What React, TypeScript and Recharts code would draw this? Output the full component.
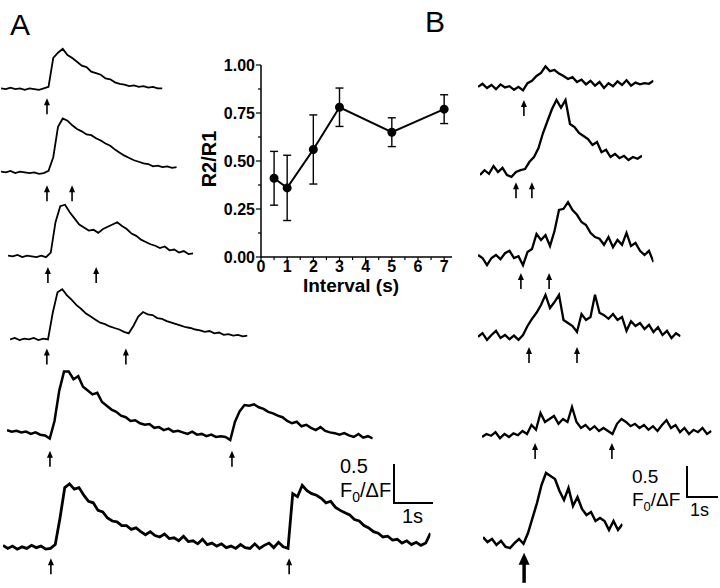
import { ComposedChart, Line, XAxis, YAxis, ErrorBar, ReferenceDot } from 'recharts';

const FONT = 'Liberation Sans, Arial, Helvetica, sans-serif';

// inset: paired-pulse ratio vs interval
const intervals = [0.5, 1, 2, 3, 5, 7];
const ratio = [0.41, 0.36, 0.56, 0.78, 0.65, 0.77];
const ratioErr = [0.14, 0.17, 0.18, 0.1, 0.075, 0.075];
const xTicks = [0, 0.5, 1, 1.5, 2, 2.5, 3, 3.5, 4, 4.5, 5, 5.5, 6, 6.5, 7];
const yTicks = [0, 0.125, 0.25, 0.375, 0.5, 0.625, 0.75, 0.875, 1];

// panel A traces (F0/dF), sampled every 0.125 s
const dtA = 0.125;
const a1 = [0, -0.01, 0.01, -0.01, 0, -0.02, 0, -0.01, -0.02, 0, 0.02, 0.4, 0.47, 0.52, 0.44, 0.4, 0.35, 0.3, 0.28, 0.22, 0.2, 0.18, 0.13, 0.12, 0.08, 0.06, 0.05, 0.03, 0.04, 0.02, 0.03, 0.01, 0.02, 0, 0];
const a2 = [0.01, 0, 0.02, -0.01, 0.01, 0, -0.01, 0, -0.02, -0.01, 0.02, 0.2, 0.6, 0.71, 0.68, 0.62, 0.57, 0.54, 0.5, 0.49, 0.45, 0.42, 0.38, 0.35, 0.3, 0.26, 0.22, 0.19, 0.16, 0.14, 0.12, 0.11, 0.08, 0.09, 0.07, 0.08, 0.06, 0.07];
const a3 = [0.01, 0, 0.02, -0.01, 0.01, 0, -0.01, 0.01, -0.01, 0.05, 0.45, 0.66, 0.68, 0.58, 0.5, 0.42, 0.38, 0.34, 0.35, 0.31, 0.36, 0.39, 0.42, 0.45, 0.4, 0.36, 0.3, 0.27, 0.22, 0.19, 0.16, 0.14, 0.11, 0.13, 0.08, 0.09, 0.05, 0.07, 0.03, 0.04];
const a4 = [0, 0.02, -0.01, 0.01, 0, 0.02, -0.01, 0.01, 0, 0.35, 0.62, 0.66, 0.58, 0.52, 0.45, 0.4, 0.34, 0.3, 0.26, 0.22, 0.2, 0.17, 0.15, 0.13, 0.1, 0.08, 0.18, 0.3, 0.36, 0.33, 0.32, 0.28, 0.27, 0.24, 0.22, 0.2, 0.18, 0.16, 0.15, 0.13, 0.12, 0.1, 0.11, 0.08, 0.09, 0.06, 0.07, 0.05, 0.06, 0.04, 0.05];
const a5 = [0.03, 0.01, 0.02, 0, 0.01, -0.02, 0, -0.03, -0.04, -0.08, 0.15, 0.55, 0.8, 0.8, 0.7, 0.74, 0.6, 0.55, 0.5, 0.52, 0.4, 0.35, 0.3, 0.27, 0.22, 0.2, 0.15, 0.16, 0.12, 0.1, 0.11, 0.06, 0.07, 0.03, 0.05, 0.01, 0.02, 0, -0.02, 0.01, -0.03, -0.02, -0.05, -0.03, -0.06, -0.05, -0.06, -0.1, 0.14, 0.28, 0.36, 0.35, 0.37, 0.33, 0.31, 0.27, 0.25, 0.22, 0.2, 0.15, 0.12, 0.14, 0.08, 0.1, 0.06, 0.03, 0.07, 0.02, 0, -0.01, -0.03, -0.01, -0.04, -0.06, -0.02, -0.07, -0.05, -0.08];
const a6 = [0.04, 0, 0.03, -0.01, 0.02, 0, 0.04, 0.01, 0.03, -0.01, 0, 0.05, 0.4, 0.8, 0.85, 0.78, 0.8, 0.7, 0.62, 0.6, 0.5, 0.48, 0.4, 0.36, 0.35, 0.3, 0.3, 0.25, 0.27, 0.22, 0.18, 0.22, 0.17, 0.15, 0.19, 0.13, 0.14, 0.1, 0.16, 0.09, 0.1, 0.06, 0.12, 0.05, 0.07, 0.03, 0.06, 0.01, 0.03, 0, 0.05, 0.01, 0, 0.06, 0, 0.04, 0.07, 0.01, 0.08, 0.02, 0, 0.72, 0.68, 0.83, 0.76, 0.72, 0.7, 0.66, 0.6, 0.62, 0.54, 0.5, 0.47, 0.44, 0.38, 0.36, 0.3, 0.27, 0.22, 0.2, 0.15, 0.16, 0.11, 0.12, 0.07, 0.1, 0.05, 0.08, 0.04, 0.07, 0.2];
const a1Stim = [1.21];
const a2Stim = [1.21, 1.87];
const a3Stim = [1.05, 2.32];
const a4Stim = [0.97, 3.05];
const a5Stim = [1.13, 5.92];
const a6Stim = [1.26, 7.53];

// panel B traces, sampled every 0.15 s
const dtB = 0.15;
const b1 = [0.02, 0.07, 0, 0.05, -0.02, 0.06, 0.01, 0.03, -0.03, 0.02, -0.04, 0.08, 0.12, 0.2, 0.25, 0.36, 0.28, 0.3, 0.24, 0.2, 0.15, 0.18, 0.1, 0.14, 0.06, 0.12, 0.04, 0.1, 0, 0.08, 0.03, 0.11, 0.05, 0.13, 0.04, 0.09, 0.06, 0.08, 0.07, 0.12];
const b2 = [0, 0.08, 0.02, 0.15, 0.05, 0.12, 0, -0.03, 0.05, 0.08, 0.1, 0.22, 0.3, 0.45, 0.7, 0.9, 1.1, 1.25, 1.12, 1.25, 0.85, 0.8, 0.7, 0.65, 0.6, 0.5, 0.55, 0.38, 0.42, 0.3, 0.35, 0.28, 0.32, 0.25, 0.3, 0.27, 0.32];
const b3 = [0.05, 0, -0.12, 0, 0.05, -0.02, 0.08, 0.12, 0, 0.03, -0.12, 0.1, 0.15, 0.4, 0.3, 0.38, 0.2, 0.45, 0.8, 0.82, 0.93, 0.8, 0.72, 0.6, 0.55, 0.42, 0.35, 0.32, 0.22, 0.35, 0.18, 0.3, 0.22, 0.42, 0.2, 0.25, 0.12, 0.05, 0.12, -0.07];
const b4 = [0.02, 0.08, -0.03, 0.05, 0.12, 0, 0.05, -0.02, 0.04, -0.03, 0.05, 0.2, 0.32, 0.42, 0.55, 0.72, 0.5, 0.6, 0.72, 0.3, 0.25, 0.2, 0.1, 0.4, 0.3, 0.35, 0.72, 0.42, 0.38, 0.32, 0.4, 0.3, 0.35, 0.12, 0.28, 0.2, 0.25, 0.15, 0.22, 0.1, 0.18, 0.05, 0.12, 0, 0.08, 0.03];
const b5 = [0, 0.05, 0.02, 0.08, -0.02, 0.05, 0, 0.06, 0.03, 0.1, 0.05, 0.2, 0.12, 0.4, 0.25, 0.3, 0.35, 0.22, 0.3, 0.25, 0.5, 0.25, 0.15, 0.2, 0.12, 0.18, 0.1, 0.15, 0.1, 0.05, 0.22, 0.3, 0.25, 0.18, 0.22, 0.15, 0.2, 0.12, 0.18, 0.1, 0.2, 0.28, 0.15, 0.2, 0.08, 0.15, 0.05, 0.12, 0.08, 0.15, 0.05, 0.1];
const b6 = [0.08, 0, 0.05, -0.05, 0.02, -0.08, -0.1, -0.02, 0.05, -0.03, 0.15, 0.4, 0.65, 0.95, 1.15, 1.1, 1.05, 0.85, 0.7, 0.9, 0.6, 0.75, 0.55, 0.45, 0.5, 0.35, 0.4, 0.35, 0.2, 0.35, 0.2, 0.3];
const b1Stim = [1.53];
const b2Stim = [1.2, 1.73];
const b3Stim = [1.43, 2.37];
const b4Stim = [1.7, 3.3];
const b5Stim = [1.77, 4.33];
const b6Stim = [1.37];

// scale bars: 1 s by 0.5 F0/dF, drawn as an L
const scaleBar = [
  { t: 0, v: 0.5 },
  { t: 0, v: 0 },
  { t: 1, v: 0 },
];

const V_MIN = -0.8;
const V_MAX = 1.4;
const PAD = 3;

// px per second / px per unit, from the scale bars
const A = { pxS: 38, pxU: 76 };
const B = { pxS: 30, pxU: 60 };

const traces = [
  { values: a1, dt: dtA, stim: a1Stim, ...A, x: 1, base: 88, arrowAt: 0.13, sw: 1.8 },
  { values: a2, dt: dtA, stim: a2Stim, ...A, x: 1, base: 172, arrowAt: 0.17, sw: 1.8 },
  { values: a3, dt: dtA, stim: a3Stim, ...A, x: 8, base: 256, arrowAt: 0.14, sw: 1.8 },
  { values: a4, dt: dtA, stim: a4Stim, ...A, x: 10, base: 339, arrowAt: 0.12, sw: 1.8 },
  { values: a5, dt: dtA, stim: a5Stim, ...A, x: 7, base: 432, arrowAt: 0.24, sw: 2.5 },
  { values: a6, dt: dtA, stim: a6Stim, ...A, x: 3, base: 548, arrowAt: 0.13, sw: 2.8 },
  { values: b1, dt: dtB, stim: b1Stim, ...B, x: 478, base: 88, arrowAt: 0.2, sw: 2.3 },
  { values: b2, dt: dtB, stim: b2Stim, ...B, x: 480, base: 175, arrowAt: 0.12, sw: 2.3 },
  { values: b3, dt: dtB, stim: b3Stim, ...B, x: 478, base: 258, arrowAt: 0.25, sw: 2.3 },
  { values: b4, dt: dtB, stim: b4Stim, ...B, x: 478, base: 338, arrowAt: 0.15, sw: 2.3 },
  { values: b5, dt: dtB, stim: b5Stim, ...B, x: 482, base: 437, arrowAt: 0.1, sw: 2.3 },
  { values: b6, dt: dtB, stim: b6Stim, ...B, x: 483, base: 542, arrowAt: 0.18, sw: 2.5, big: true },
];

function Arrow(props: any) {
  const { cx, cy, big } = props;
  if (cx == null || cy == null) return null;
  const len = big ? 30 : 16;
  const hw = big ? 5.5 : 3;
  const hh = big ? 12 : 7;
  return (
    <g>
      <line x1={cx} y1={cy + hh - 1} x2={cx} y2={cy + len} stroke="#000" strokeWidth={big ? 3.5 : 1.6} />
      <path d={`M${cx},${cy} L${cx - hw},${cy + hh} L${cx + hw},${cy + hh} Z`} fill="#000" />
    </g>
  );
}

function Trace({ t }: { t: any }) {
  const data = t.values.map((v: number, i: number) => ({ t: i * t.dt, v }));
  const tMax = (t.values.length - 1) * t.dt;
  const w = tMax * t.pxS;
  const h = (V_MAX - V_MIN) * t.pxU;
  return (
    <div style={{ position: 'absolute', left: t.x - PAD, top: t.base - V_MAX * t.pxU }}>
      <ComposedChart width={w + 2 * PAD} height={h} data={data} margin={{ top: 0, right: PAD, bottom: 0, left: PAD }}>
        <XAxis type="number" dataKey="t" domain={[0, tMax]} hide allowDataOverflow />
        <YAxis type="number" domain={[V_MIN, V_MAX]} hide allowDataOverflow />
        <Line dataKey="v" type="linear" dot={false} activeDot={false} stroke="#000" strokeWidth={t.sw} isAnimationActive={false} />
        {t.stim.map((s: number) => (
          <ReferenceDot key={s} x={s} y={-t.arrowAt} r={0} ifOverflow="visible" shape={(p: any) => <Arrow {...p} big={t.big} />} />
        ))}
      </ComposedChart>
    </div>
  );
}

function ScaleBar({ x, y, pxS, pxU }: { x: number; y: number; pxS: number; pxU: number }) {
  // x, y: corner of the L
  return (
    <div style={{ position: 'absolute', left: x - 3, top: y - 0.5 * pxU - 3 }}>
      <ComposedChart width={pxS + 6} height={0.5 * pxU + 6} data={scaleBar} margin={{ top: 3, right: 3, bottom: 3, left: 3 }}>
        <XAxis type="number" dataKey="t" domain={[0, 1]} hide />
        <YAxis type="number" domain={[0, 0.5]} hide />
        <Line dataKey="v" type="linear" dot={false} activeDot={false} stroke="#000" strokeWidth={2} strokeLinecap="square" isAnimationActive={false} />
      </ComposedChart>
    </div>
  );
}

function XTick(props: any) {
  const { x, y, payload } = props;
  const major = Number.isInteger(payload.value);
  return (
    <g>
      <line x1={x} y1={y} x2={x} y2={y + (major ? 5 : 3)} stroke="#000" strokeWidth={1.2} />
      {major && (
        <text x={x} y={y + 15} textAnchor="middle" fontSize={16} fontWeight="bold" fontFamily={FONT} fill="#000">
          {payload.value}
        </text>
      )}
    </g>
  );
}

function YTick(props: any) {
  const { x, y, payload } = props;
  const major = Math.round(payload.value * 1000) % 250 === 0;
  return (
    <g>
      <line x1={x} y1={y} x2={x - (major ? 5 : 3)} y2={y} stroke="#000" strokeWidth={1.2} />
      {major && (
        <text x={x - 6} y={y} dy="0.36em" textAnchor="end" fontSize={16} fontWeight="bold" fontFamily={FONT} fill="#000">
          {payload.value.toFixed(2)}
        </text>
      )}
    </g>
  );
}

function RatioChart() {
  const data = intervals.map((x, i) => ({ x, r: ratio[i], e: ratioErr[i] }));
  return (
    <div style={{ position: 'absolute', left: 200, top: 55 }}>
      <ComposedChart width={262} height={245} data={data} margin={{ top: 10, right: 10, left: 1, bottom: 13 }}>
        <XAxis
          type="number"
          dataKey="x"
          domain={[0, 7.3]}
          ticks={xTicks}
          interval={0}
          tickSize={0}
          tickMargin={0}
          tickLine={false}
          tick={(p: any) => <XTick {...p} />}
          axisLine={{ stroke: '#000', strokeWidth: 1.5 }}
          height={30}
          allowDataOverflow
        />
        <YAxis
          type="number"
          domain={[0, 1]}
          ticks={yTicks}
          interval={0}
          tickSize={0}
          tickMargin={0}
          tickLine={false}
          tick={(p: any) => <YTick {...p} />}
          axisLine={{ stroke: '#000', strokeWidth: 1.5 }}
          width={60}
        />
        <Line dataKey="r" stroke="#000" strokeWidth={2} dot={{ r: 3.5, fill: '#000', stroke: '#000' }} activeDot={false} isAnimationActive={false}>
          <ErrorBar dataKey="e" direction="y" width={4} stroke="#000" strokeWidth={1.4} />
        </Line>
      </ComposedChart>
    </div>
  );
}

export default function App() {
  return (
    <div style={{ position: 'absolute', left: 0, top: 0, width: 720, height: 588, background: '#fff', overflow: 'hidden', fontFamily: FONT }}>
      {traces.map((t, i) => (
        <Trace key={i} t={t} />
      ))}
      <RatioChart />
      <ScaleBar x={394} y={503} pxS={A.pxS} pxU={A.pxU} />
      <ScaleBar x={687} y={497} pxS={B.pxS} pxU={B.pxU} />
      <svg width={720} height={588} style={{ position: 'absolute', left: 0, top: 0, pointerEvents: 'none' }} fontFamily={FONT} fill="#000">
        <text x={10} y={35} fontSize={30}>A</text>
        <text x={425} y={32} fontSize={30}>B</text>
        <text transform="translate(216,159) rotate(-90)" textAnchor="middle" fontSize={20} fontWeight="bold">R2/R1</text>
        <text x={351} y={292} textAnchor="middle" fontSize={19} fontWeight="bold">Interval (s)</text>
        <text x={340} y={473} fontSize={20}>0.5</text>
        <text x={340} y={497} fontSize={20}>
          F<tspan fontSize={14} dy={5}>0</tspan>
          <tspan dy={-5} fontSize={20}>/ΔF</tspan>
        </text>
        <text x={402} y={523} fontSize={20}>1s</text>
        <text x={632} y={483} fontSize={19}>0.5</text>
        <text x={632} y={506} fontSize={19}>
          F<tspan fontSize={13} dy={5}>0</tspan>
          <tspan dy={-5} fontSize={19}>/ΔF</tspan>
        </text>
        <text x={690} y={516} fontSize={18}>1s</text>
      </svg>
    </div>
  );
}
